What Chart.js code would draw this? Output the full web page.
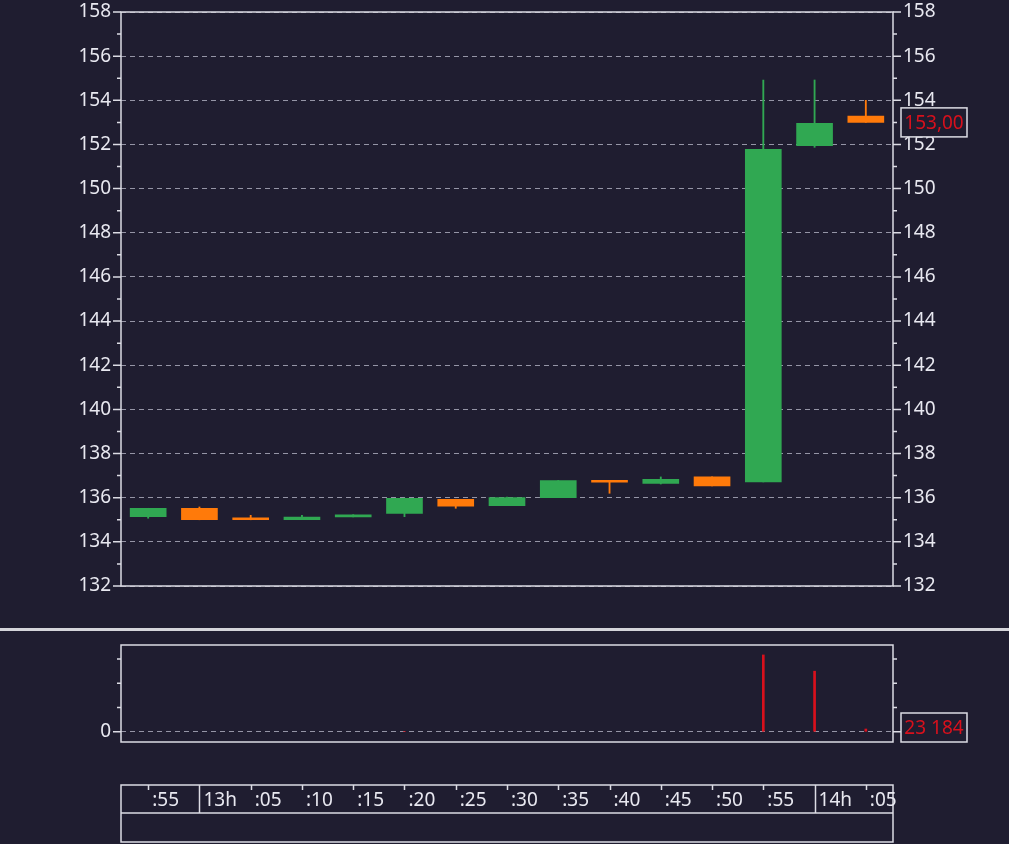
<!DOCTYPE html>
<html>
<head>
<meta charset="utf-8">
<script src="https://cdn.jsdelivr.net/npm/chart.js@4.4.0/dist/chart.umd.min.js"></script>
<style>
  html, body { margin: 0; padding: 0; background: #1f1d30; width: 1009px; height: 844px; overflow: hidden; }
  .pane { position: absolute; left: 0; width: 1009px; }
  #sep { position: absolute; left: 0; top: 628px; width: 1009px; height: 3px; background: #d4d4da; }
</style>
</head>
<body>
<div class="pane" style="top:0;height:610px"><canvas id="price" width="1009" height="610"></canvas></div>
<div id="sep"></div>
<div class="pane" style="top:632px;height:128px"><canvas id="volume" width="1009" height="128"></canvas></div>
<div class="pane" style="top:776px;height:68px"><canvas id="time" width="1009" height="68"></canvas></div>
<script>
// 5 minute candles, 12:55 -> 14:05
const timeLabels = [':55', '13h', ':05', ':10', ':15', ':20', ':25', ':30', ':35', ':40', ':45', ':50', ':55', '14h', ':05'];
const opens  = [135.14, 135.52, 135.05, 135.00, 135.13, 135.29, 135.93, 135.64, 136.00, 136.77, 136.65, 136.94, 136.71, 151.94, 153.29];
const highs  = [135.52, 135.58, 135.20, 135.20, 135.23, 135.98, 135.93, 136.03, 136.78, 136.77, 136.94, 136.94, 154.92, 154.92, 154.00];
const lows   = [135.07, 135.00, 135.00, 135.00, 135.13, 135.14, 135.52, 135.64, 136.00, 136.20, 136.62, 136.53, 136.71, 151.87, 153.00];
const closes = [135.52, 135.00, 135.00, 135.12, 135.22, 135.97, 135.62, 136.00, 136.77, 136.70, 136.83, 136.53, 151.78, 152.96, 153.00];
const volumes = [0, 0, 0, 0, 0, 4000, 0, 0, 0, 0, 0, 0, 634000, 500000, 23184];
const priceTicks = [132, 134, 136, 138, 140, 142, 144, 146, 148, 150, 152, 154, 156, 158];
const volumeTicks = [0, 200000, 400000, 600000];

const GREEN = '#30a852';
const ORANGE = '#ff7a0a';
const RED = '#d8101c';
const TEXT = '#e8e8f0';
const FRAME = '#dcdce4';
const GRID = 'rgba(190,190,205,0.75)';
const FONT = { family: '"Noto Sans", "Open Sans", sans-serif', size: 19 };
const FONT_CSS = '19px "Noto Sans", "Open Sans", sans-serif';

const idx = timeLabels.map((t, i) => i);
const candleColors = idx.map(i => closes[i] >= opens[i] ? GREEN : ORANGE);
const xScale = { type: 'linear', min: -0.53, max: 14.53, offset: false, display: false };

// keep tick labels from pushing the plot area in
function fixAxis(width) {
    return s => { s.width = width; s.paddingTop = 0; s.paddingBottom = 0; };
}

// frame + tick marks for a pane
function drawFrame(chart, scale, major, minor) {
    const { ctx, chartArea: a } = chart;
    ctx.save();
    ctx.strokeStyle = FRAME;
    ctx.lineWidth = 1.5;
    ctx.strokeRect(a.left, a.top, a.right - a.left, a.bottom - a.top);
    ctx.beginPath();
    minor.forEach(v => {
        const y = scale.getPixelForValue(v);
        const len = major.includes(v) ? 8 : 4;
        ctx.moveTo(a.left - len, y); ctx.lineTo(a.left, y);
        ctx.moveTo(a.right, y); ctx.lineTo(a.right + len, y);
    });
    ctx.stroke();
    ctx.restore();
}

function drawValueBox(chart, y, text) {
    const { ctx, chartArea: a } = chart;
    const x = a.right + 8, w = 66, h = 29;
    const top = Math.min(y - h / 2, a.bottom - h);
    ctx.save();
    ctx.fillStyle = '#1f1d30';
    ctx.fillRect(x, top, w, h);
    ctx.strokeStyle = FRAME;
    ctx.lineWidth = 1.5;
    ctx.strokeRect(x, top, w, h);
    ctx.fillStyle = RED;
    ctx.font = FONT_CSS;
    ctx.textAlign = 'center';
    ctx.textBaseline = 'middle';
    ctx.fillText(text, x + w / 2, top + h / 2 + 1);
    ctx.restore();
}

// ---- price pane
const minorPrice = [];
for (let v = 132; v <= 158; v++) minorPrice.push(v);

new Chart(document.getElementById('price'), {
    type: 'bar',
    data: {
        datasets: [
            { data: idx.map(i => ({ x: i, y: [lows[i], highs[i]] })), backgroundColor: candleColors, barThickness: 1.2, grouped: false, order: 2 },
            { data: idx.map(i => ({ x: i, y: [opens[i], closes[i]] })), backgroundColor: candleColors, barThickness: 36, minBarLength: 2, grouped: false, order: 1 }
        ]
    },
    options: {
        responsive: false,
        animation: false,
        layout: { padding: { top: 12, bottom: 24 } },
        plugins: { legend: { display: false }, tooltip: { enabled: false } },
        scales: {
            x: xScale,
            y: {
                position: 'left', min: 132, max: 158,
                afterBuildTicks: s => { s.ticks = priceTicks.map(v => ({ value: v })); },
                afterFit: fixAxis(121),
                ticks: { color: TEXT, font: FONT, padding: 10 },
                grid: { color: GRID, drawTicks: false },
                border: { display: false, dash: [5, 4] }
            },
            y2: {
                position: 'right', min: 132, max: 158,
                afterBuildTicks: s => { s.ticks = priceTicks.map(v => ({ value: v })); },
                afterFit: fixAxis(116),
                ticks: { color: TEXT, font: FONT, padding: 10 },
                grid: { display: false, drawTicks: false },
                border: { display: false }
            }
        }
    },
    plugins: [{
        id: 'priceFrame',
        afterDraw(chart) {
            const s = chart.scales.y;
            drawFrame(chart, s, priceTicks, minorPrice);
            const last = closes[closes.length - 1];
            drawValueBox(chart, s.getPixelForValue(last), last.toFixed(2).replace('.', ','));
        }
    }]
});

// ---- volume pane
new Chart(document.getElementById('volume'), {
    type: 'bar',
    data: {
        datasets: [
            { data: idx.map(i => ({ x: i, y: volumes[i] || null })), backgroundColor: RED, barThickness: 2 }
        ]
    },
    options: {
        responsive: false,
        animation: false,
        layout: { padding: { top: 13, bottom: 18, right: 116 } },
        plugins: { legend: { display: false }, tooltip: { enabled: false } },
        scales: {
            x: xScale,
            y: {
                position: 'left', min: -84000, max: 716000,
                afterBuildTicks: s => { s.ticks = [{ value: 0 }]; },
                afterFit: fixAxis(121),
                ticks: { color: TEXT, font: FONT, padding: 10 },
                grid: { color: GRID, drawTicks: false },
                border: { display: false, dash: [5, 4] }
            }
        }
    },
    plugins: [{
        id: 'volumeFrame',
        afterDraw(chart) {
            const s = chart.scales.y;
            drawFrame(chart, s, [0], volumeTicks);
            const last = volumes[volumes.length - 1];
            drawValueBox(chart, s.getPixelForValue(last), String(last).replace(/\B(?=(\d{3})+(?!\d))/g, ' '));
        }
    }]
});

// ---- time axis pane
new Chart(document.getElementById('time'), {
    type: 'bar',
    data: { datasets: [] },
    options: {
        responsive: false,
        animation: false,
        layout: { padding: { top: 9, bottom: 2, left: 121, right: 116 } },
        plugins: { legend: { display: false }, tooltip: { enabled: false } },
        scales: { x: xScale, y: { display: false, min: 0, max: 1 } }
    },
    plugins: [{
        id: 'timeAxis',
        afterDraw(chart) {
            const { ctx, chartArea: a } = chart;
            const x = chart.scales.x;
            const mid = a.top + 28;
            ctx.save();
            ctx.strokeStyle = FRAME;
            ctx.lineWidth = 1.5;
            ctx.strokeRect(a.left, a.top, a.right - a.left, a.bottom - a.top);
            ctx.beginPath();
            ctx.moveTo(a.left, mid); ctx.lineTo(a.right, mid);
            timeLabels.forEach((t, i) => {
                const px = Math.round(x.getPixelForValue(i)) + 0.5;
                ctx.moveTo(px, a.top);
                ctx.lineTo(px, t.endsWith('h') ? mid : a.top + 5);
            });
            ctx.stroke();
            ctx.fillStyle = TEXT;
            ctx.font = FONT_CSS;
            ctx.textAlign = 'left';
            ctx.textBaseline = 'middle';
            timeLabels.forEach((t, i) => {
                ctx.fillText(t, x.getPixelForValue(i) + 4, a.top + 16);
            });
            ctx.restore();
        }
    }]
});
</script>
</body>
</html>
